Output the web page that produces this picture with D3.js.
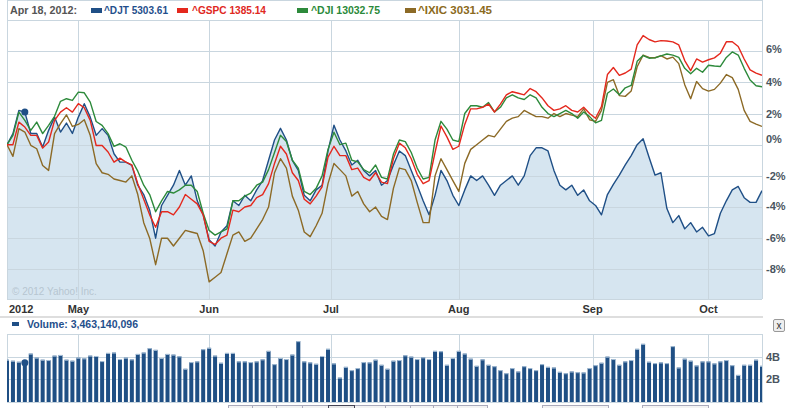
<!DOCTYPE html>
<html><head><meta charset="utf-8">
<script src="https://cdn.jsdelivr.net/npm/d3@7"></script>
<style>body{margin:0;background:#fff;}svg{display:block;font-family:"Liberation Sans",Arial,sans-serif;}</style>
</head><body><svg id="c" width="798" height="408"></svg>
<script>
// ---------- data ----------
const tradingStart = "2012-04-13", tradingEnd = "2012-10-12";
const holidays = ["2012-05-28", "2012-07-04", "2012-09-03"];
const hoverDate = "2012-04-18";
const legendDate = "Apr 18, 2012:";
const seriesNames = ["^DJT 5303.61", "^GSPC 1385.14", "^DJI 13032.75", "^IXIC 3031.45"];
const volumeLabel = "Volume: 3,463,140,096";
const monthTickDates = ["2012-05-01", "2012-06-01", "2012-07-01", "2012-08-01", "2012-09-01", "2012-10-01"];
const monthTickLabels = ["May", "Jun", "Jul", "Aug", "Sep", "Oct"];
const yearLabel = "2012";
const pctTicks = [6, 4, 2, 0, -2, -4, -6, -8];
const volTicks = [4, 2];

// % change, one per trading day
const djt = [0,0.71,2.2,2.09,0.72,0.72,-0.15,0.92,1.77,0.81,1.39,0.72,1.77,2.63,1.77,0.6,1.03,0.6,-0.58,-1.12,-1.12,
 -1.33,-2.6,-3.2,-4.2,-6,-3.9,-3.25,-2.6,-1.65,-2.6,-2,-3.6,-4.5,-6.1,-6.5,-5.6,-5.2,-3.6,-3.9,-3.25,-3.6,-2.9,-2.3,-1,0.3,1.05,0.3,-1,-1.65,
 -3.25,-3.6,-2.9,-2.6,-0.4,1.25,0.3,-0.4,-1.3,-1,-1.65,-2,-1.65,-2.6,-2.3,-1.3,-0.4,-0.7,-1.65,-2.6,-3.6,-4.5,-3.25,-1.65,-2.3,-3.25,-3.9,-2.9,-2,-2.3,
 -2,-2.6,-3.25,-2.6,-2.3,-2,-2.6,-2,-0.7,-0.2,-0.2,-0.4,-1.65,-2.6,-2.9,-2.6,-3.25,-2.9,-3.6,-3.9,
 -4.5,-3.2,-2.55,-1.95,-1.3,-0.7,0.0,0.38,-0.8,-1.95,-1.8,-4.1,-5.0,-4.55,-5.4,-5.0,-5.6,-5.3,-5.85,-5.7,-4.4,-3.6,-2.9,-2.68,-3.4,-3.7,-3.7,-2.95];
const gspc = [0,0,1.45,1.13,0.6,0.6,-0.22,0.17,1.56,2.09,2.37,2.09,2.63,2.37,1.56,-0.05,-0.05,-0.47,-1.12,-0.86,-1.12,
 -1.3,-2.5,-3.5,-4.5,-5.3,-4.3,-4.3,-4.5,-4,-3.2,-3.5,-3.8,-4.5,-6.2,-6.4,-6,-5.8,-4.2,-4.3,-4.0,-3.9,-3.4,-3.2,-2.5,-1.2,-0.1,-0.6,-1.8,-2.3,
 -3.5,-3.8,-3.3,-2.7,-0.8,-0.1,-0.7,-0.7,-1.6,-1.5,-2.1,-2.3,-1.8,-2.4,-2.5,-0.9,0.1,-0.2,-0.9,-1.9,-2.5,-2.3,-0.5,1.2,0.5,-0.3,-0.1,1.3,2.3,2.3,
 2.4,2.6,2.1,2.6,3.2,3.4,3.3,3.2,3.6,3.4,3.0,2.5,2.2,2.3,2.5,2.2,2.1,2.4,2.0,1.7,
 2.45,4.5,4.95,4.45,4.6,4.85,6.4,7.0,6.75,6.6,6.68,6.65,6.6,6.4,5.4,4.75,5.5,5.3,5.45,5.57,5.87,6.6,6.6,6.3,5.5,4.8,4.59,4.45];
const dji = [0,0.6,2.09,1.56,0.92,1.45,0.71,1.24,1.82,2.78,2.95,2.84,3.37,3.33,2.73,1.49,1.24,0.71,-0.11,0.06,-0.15,
 -1.0,-1.7,-2.6,-3.2,-4.3,-3.6,-3.0,-3.1,-2.9,-2.6,-2.6,-3.0,-4.4,-5.5,-5.8,-5.6,-5.4,-3.6,-3.6,-3.3,-3.1,-2.6,-2.4,-1.6,-0.5,0.6,0.2,-1.0,-1.5,
 -3.0,-3.2,-2.8,-2.0,-0.3,0.8,0.0,0.1,-1.0,-1.1,-1.6,-1.8,-1.3,-2.1,-2.2,-0.6,0.3,0.2,-0.5,-1.5,-2.2,-2.1,0.3,1.5,1.0,0.3,0.2,2.0,2.5,2.5,
 2.4,2.7,2.1,2.4,3.0,3.2,3.0,2.9,3.2,3.0,2.4,2.0,1.8,2.0,2.2,2.0,1.7,2.1,1.8,1.4,
 1.56,3.3,3.57,3.2,3.65,3.8,5.35,5.72,5.55,5.57,5.7,5.82,5.75,5.6,4.9,4.55,4.9,4.65,5.1,5.05,5.02,5.6,5.95,5.75,4.9,4.15,3.78,3.72];
const ixic = [0,-0.75,1.03,0.81,-0.04,-0.26,-1.33,-1.65,0.71,1.35,1.92,1.17,1.3,1.6,0.6,-1.22,-1.8,-1.9,-2.2,-2.3,-2.4,
 -2.0,-3.2,-5.0,-6.0,-7.7,-6.0,-6.0,-6.5,-6.0,-5.5,-5.6,-5.7,-6.8,-8.8,-8.5,-8.2,-7.0,-5.8,-5.6,-6.2,-6.0,-5.4,-4.8,-4.0,-1.8,-0.9,-1.5,-3.3,-4.2,
 -5.6,-5.9,-5.2,-4.4,-2.5,-1.2,-1.6,-2.0,-3.3,-3.0,-3.8,-4.3,-4.0,-4.6,-4.8,-2.8,-1.5,-1.6,-2.3,-3.7,-5.0,-5.0,-2.0,-0.9,-1.6,-2.3,-3.0,-1.2,-0.3,0.0,
 0.3,0.6,0.5,1.0,1.5,1.7,1.8,2.2,2.0,1.8,1.8,1.7,2.0,1.8,2.0,1.9,1.8,2.3,1.6,1.5,
 2.2,4.0,4.17,3.15,3.1,3.45,5.0,5.75,5.6,5.58,5.72,5.5,5.62,5.2,3.85,2.95,4.05,3.6,3.44,3.55,3.95,4.5,4.3,3.55,2.2,1.5,1.32,1.17];
// volume in billions of shares
const volume = [3.73,3.64,3.55,3.46,4.27,3.91,3.73,3.70,4.09,4.15,
 3.73,3.64,3.91,3.85,4.09,4.06,3.61,4.33,4.36,3.79,
 3.91,3.76,4.24,4.36,4.75,4.60,3.88,4.24,4.18,4.03,
 2.93,3.52,3.58,4.66,4.78,4.09,3.46,4.33,4.33,3.58,
 3.58,3.52,3.58,3.76,4.51,3.34,3.88,3.79,4.18,5.37,
 3.58,3.49,3.37,4.06,4.69,3.40,2.15,3.10,2.81,2.99,
 3.52,3.49,3.73,3.28,2.93,3.64,3.70,4.12,4.00,3.79,
 3.94,3.79,4.51,4.48,3.28,3.88,4.51,4.27,3.82,3.19,
 3.76,3.28,3.16,2.81,2.54,2.99,2.69,3.16,2.99,2.81,
 3.34,3.10,3.04,2.66,2.54,2.69,2.63,2.60,2.99,3.25,
 3.46,4.00,3.79,3.28,3.58,3.70,4.69,5.13,3.55,3.43,
 3.49,3.43,4.93,3.04,3.82,3.64,3.22,3.58,3.58,3.40,
 3.58,3.70,3.25,2.39,3.28,3.28,3.73,3.19];

const colors = {djt:"#1f4f86", gspc:"#e4281d", dji:"#2d8a3b", ixic:"#8c6a26"};
const textColors = ["#1f4f8c", "#e0281e", "#2a8a3a", "#8b6a20"];

// ---------- trading calendar ----------
function tradingDays() {
  const out = [];
  let d = new Date(tradingStart + "T12:00:00Z");
  const end = new Date(tradingEnd + "T12:00:00Z");
  while (d <= end) {
    const s = d.toISOString().slice(0, 10), wd = d.getUTCDay();
    if (wd !== 0 && wd !== 6 && !holidays.includes(s)) out.push(s);
    d = new Date(d.getTime() + 864e5);
  }
  return out;
}
const dates = tradingDays();
function datePos(s) {
  const i = dates.indexOf(s);
  if (i >= 0) return i;
  const j = dates.findIndex(d => d > s);
  return j - 0.5;
}

// ---------- layout ----------
const svg = d3.select("#c");
const L = 7, R = 762, T = 20, B = 299;
const VT = 334, VB = 402;
const grid = "#c9d6df";

const x = d3.scaleLinear().domain([0, dates.length - 1]).range([L, R]);
const y = d3.scaleLinear().domain([-9.9, 8.0]).range([B, T]);
const yv = d3.scaleLinear().domain([0, 6]).range([VB, VT]);

svg.append("rect").attr("width", 798).attr("height", 408).attr("fill", "#fff");

const defs = svg.append("defs");
defs.append("clipPath").attr("id", "pc").append("rect").attr("x", L).attr("y", T).attr("width", R - L).attr("height", B - T);
defs.append("clipPath").attr("id", "vc").append("rect").attr("x", L).attr("y", VT).attr("width", R - L).attr("height", VB - VT);

// legend frame
svg.append("rect").attr("x", L + 0.5).attr("y", 0.5).attr("width", R - L).attr("height", T).attr("fill", "none").attr("stroke", grid);

const lg = svg.append("g").attr("font-weight", "bold").attr("font-size", "11px");
lg.append("text").attr("x", 10).attr("y", 14).attr("fill", "#555").attr("textLength", 67).attr("lengthAdjust", "spacingAndGlyphs").text(legendDate);
const legendSw = [91, 177, 297, 405];
const legendTx = [104, 192, 311, 418];
const legendW = [64, 74, 69, 74];
const sc = [colors.djt, colors.gspc, colors.dji, colors.ixic];
seriesNames.forEach((n, k) => {
  lg.append("rect").attr("x", legendSw[k]).attr("y", 8).attr("width", 11).attr("height", 5).attr("fill", sc[k]);
  lg.append("text").attr("x", legendTx[k]).attr("y", 14).attr("fill", textColors[k]).attr("textLength", legendW[k]).attr("lengthAdjust", "spacingAndGlyphs").text(n);
});

// ---------- main plot ----------
const plot = svg.append("g");
const area = d3.area().x((d, i) => x(i)).y0(B).y1(d => y(d));
plot.append("path").datum(djt).attr("clip-path", "url(#pc)").attr("d", area).attr("fill", "#d6e5f0");

const monthPos = monthTickDates.map(datePos);
plot.selectAll(".hg").data(pctTicks).enter().append("line")
  .attr("x1", L).attr("x2", R).attr("y1", d => Math.round(y(d)) + 0.5).attr("y2", d => Math.round(y(d)) + 0.5)
  .attr("stroke", grid);
plot.selectAll(".vg").data(monthPos).enter().append("line")
  .attr("x1", d => Math.round(x(d)) + 0.5).attr("x2", d => Math.round(x(d)) + 0.5).attr("y1", T).attr("y2", B)
  .attr("stroke", grid);
plot.append("line").attr("x1", L + 0.5).attr("x2", L + 0.5).attr("y1", T).attr("y2", B).attr("stroke", grid);
plot.append("line").attr("x1", R + 0.5).attr("x2", R + 0.5).attr("y1", 0).attr("y2", B).attr("stroke", grid);
plot.append("line").attr("x1", L).attr("x2", R).attr("y1", B + 0.5).attr("y2", B + 0.5).attr("stroke", grid);

plot.append("text").attr("x", 12).attr("y", 295).attr("font-size", "10px").attr("fill", "#b7c5d1").text("© 2012 Yahoo! Inc.");

const line = d3.line().x((d, i) => x(i)).y(d => y(d));
const lines = plot.append("g").attr("clip-path", "url(#pc)").attr("fill", "none").attr("stroke-width", 1.4).attr("stroke-linejoin", "round");
lines.append("path").datum(djt).attr("d", line).attr("stroke", colors.djt);
lines.append("path").datum(ixic).attr("d", line).attr("stroke", colors.ixic);
lines.append("path").datum(dji).attr("d", line).attr("stroke", colors.dji);
lines.append("path").datum(gspc).attr("d", line).attr("stroke", colors.gspc);

const hi = dates.indexOf(hoverDate);
plot.append("circle").attr("cx", x(hi)).attr("cy", y(djt[hi])).attr("r", 3.5).attr("fill", colors.djt);

// right axis (the 0% label sits a little above its gridline, as in the original)
const ax = svg.append("g").attr("font-size", "11px").attr("font-weight", "bold").attr("fill", "#4a5560");
ax.selectAll("text").data(pctTicks).enter().append("text")
  .attr("x", 766).attr("y", d => y(d) + 4 - (d === 0 ? 6 : 0) - (d === 6 ? 2 : 0) - (d === -4 ? 1.5 : 0)).text(d => d + "%");

// x labels
const xl = svg.append("g").attr("font-size", "11px").attr("font-weight", "bold").attr("fill", "#333");
xl.append("text").attr("x", 9).attr("y", 313).text(yearLabel);
xl.selectAll(".m").data(monthTickLabels).enter().append("text")
  .attr("x", (d, k) => x(monthPos[k])).attr("y", 313).attr("text-anchor", "middle").text(d => d);

svg.append("rect").attr("x", 0).attr("y", 316).attr("width", R + 1).attr("height", 2).attr("fill", "#dedede");

svg.append("rect").attr("x", 12).attr("y", 322).attr("width", 7).attr("height", 4).attr("fill", colors.djt);
svg.append("text").attr("x", 27).attr("y", 328).attr("font-size", "11px").attr("font-weight", "bold").attr("fill", "#1f4f8c")
  .attr("textLength", 111).attr("lengthAdjust", "spacingAndGlyphs").text(volumeLabel);

svg.append("rect").attr("x", 773.5).attr("y", 319.5).attr("width", 11).attr("height", 12).attr("rx", 1.5).attr("fill", "#eee").attr("stroke", "#999");
svg.append("text").attr("x", 779).attr("y", 329).attr("text-anchor", "middle").attr("font-size", "10px").attr("fill", "#333").text("x");

// ---------- volume panel ----------
const vp = svg.append("g");
vp.append("rect").attr("x", L + 0.5).attr("y", VT + 0.5).attr("width", R - L).attr("height", VB - VT).attr("fill", "#fff").attr("stroke", grid);
vp.selectAll(".vh").data(volTicks).enter().append("line")
  .attr("x1", L).attr("x2", R).attr("y1", d => Math.round(yv(d)) + 0.5).attr("y2", d => Math.round(yv(d)) + 0.5).attr("stroke", grid);
vp.selectAll(".vv").data(monthPos).enter().append("line")
  .attr("x1", d => Math.round(x(d)) + 0.5).attr("x2", d => Math.round(x(d)) + 0.5).attr("y1", VT).attr("y2", VB).attr("stroke", grid);
const bars = vp.append("g").attr("clip-path", "url(#vc)");
bars.selectAll(".b").data(volume).enter().append("rect")
  .attr("x", (d, i) => x(i) - 2).attr("width", 4).attr("y", d => yv(d)).attr("height", d => VB - yv(d)).attr("fill", "#1f4f84");
bars.selectAll(".c").data(volume).enter().append("rect")
  .attr("x", (d, i) => x(i) - 2).attr("width", 4).attr("y", d => yv(d)).attr("height", 1).attr("fill", "#a9c1d8");
vp.append("circle").attr("cx", x(hi)).attr("cy", yv(volume[hi])).attr("r", 3.5).attr("fill", colors.djt);
vp.selectAll(".vt").data(volTicks).enter().append("text")
  .attr("x", 766).attr("y", d => yv(d) + 4).attr("font-size", "11px").attr("font-weight", "bold").attr("fill", "#4a5560").text(d => d + "B");

const nav = svg.append("g").attr("fill", "#f4f4f4").attr("stroke", "#aab");
[[228, 24], [252, 24], [276, 26], [302, 26], [354, 31], [385, 25], [410, 23], [433, 24], [457, 30], [542, 66], [642, 66]].forEach(b => {
  nav.append("rect").attr("x", b[0] + 0.5).attr("y", 405.5).attr("width", b[1]).attr("height", 8);
});
svg.append("rect").attr("x", 328.5).attr("y", 405.5).attr("width", 26).attr("height", 8).attr("fill", "#e8e8e8").attr("stroke", "#445");
</script></body></html>
